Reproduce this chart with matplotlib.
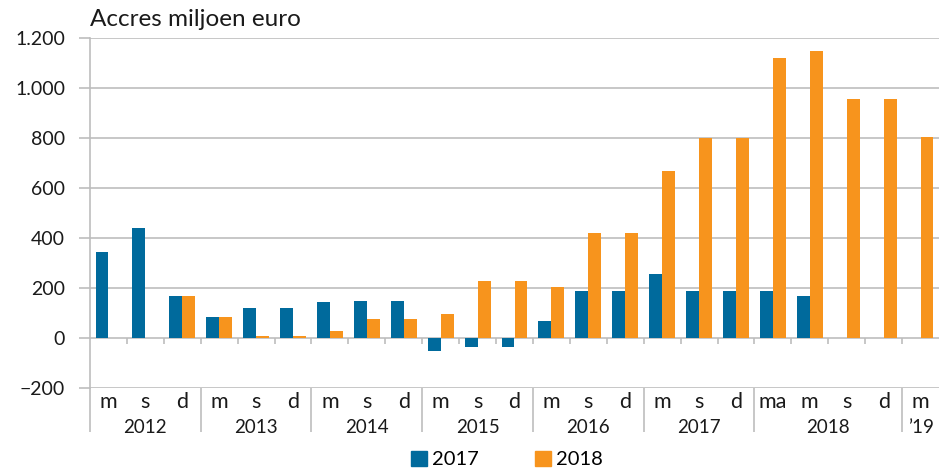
import matplotlib
matplotlib.use("Agg")
import matplotlib.pyplot as plt
import matplotlib.transforms as mtransforms
from matplotlib.patches import Patch

plt.rcParams['font.family'] = ['Lato', 'DejaVu Sans']

# category labels (m = mei, s = september, d = december, ma = maart)
periods = ["m", "s", "d", "m", "s", "d", "m", "s", "d", "m", "s", "d",
           "m", "s", "d", "m", "s", "d", "ma", "m", "s", "d", "m"]
years = ["2012", "2013", "2014", "2015", "2016", "2017", "2018", "\u201919"]
year_sizes = [3, 3, 3, 3, 3, 3, 4, 1]

# accres per circulaire, miljoen euro
acc_2017 = [345, 440, 168, 85, 122, 122, 145, 150, 150, -50, -35, -35,
            68, 190, 190, 255, 190, 190, 190, 168, None, None, None]
acc_2018 = [None, None, 168, 85, 8, 8, 28, 75, 75, 95, 228, 228,
            205, 420, 420, 670, 800, 800, 1120, 1148, 955, 955, 805]

blue = "#006a9c"
orange = "#f7941d"
grey = "#bdbdbd"

fig = plt.figure(figsize=(9.39, 4.70), dpi=100)
ax = fig.add_axes([90 / 939, 1 - 388 / 470, 849 / 939, 350 / 470])

w = 0.35
n = len(periods)
for i in range(n):
    c = i + 0.5
    if acc_2017[i] is not None:
        ax.bar(c - w / 2, acc_2017[i], width=w, color=blue, zorder=3)
    if acc_2018[i] is not None:
        ax.bar(c + w / 2, acc_2018[i], width=w, color=orange, zorder=3)

ax.set_xlim(0, n)
ax.set_ylim(-200, 1200)
yt = list(range(-200, 1201, 200))
ax.set_yticks(yt)


def fmt(v):
    s = "{:,}".format(abs(v)).replace(",", ".")
    return ("\u2212" + s) if v < 0 else s


ax.set_yticklabels([fmt(v) for v in yt], fontsize=14, color="#1a1a1a")
ax.tick_params(axis="y", length=8, width=1.2, color=grey, pad=10)
ax.yaxis.grid(True, color=grey, linewidth=1.2, zorder=0)
for s in ["top", "right", "bottom"]:
    ax.spines[s].set_visible(False)
ax.spines["left"].set_color(grey)
ax.spines["left"].set_linewidth(1.2)

# category labels
ax.set_xticks([i + 0.5 for i in range(n)])
ax.set_xticklabels(periods, fontsize=15.5, color="#1a1a1a")
ax.tick_params(axis="x", length=0, pad=3)

# small ticks on the zero line
trans = mtransforms.blended_transform_factory(ax.transData, ax.transAxes)
ax.vlines(range(1, n), 0, -22, color=grey, linewidth=1.2, zorder=2)

# year labels and separators
start = 0
bounds = [0]
for yr, size in zip(years, year_sizes):
    ax.text(start + size / 2, -0.088, yr, transform=trans, ha="center",
            va="top", fontsize=13.5, color="#1a1a1a")
    start += size
    bounds.append(start)
ax.vlines(bounds[:-1], -0.126, 0, transform=trans, color=grey,
          linewidth=1.2, clip_on=False)

ax.text(0, 1.022, "Accres miljoen euro", transform=ax.transAxes, ha="left",
        va="bottom", fontsize=17.5, color="#1a1a1a")

handles = [Patch(color=blue, label="2017"), Patch(color=orange, label="2018")]
fig.legend(handles=handles, loc="lower center", bbox_to_anchor=(0.54, -0.035),
           ncol=2, frameon=False, fontsize=14.5, handlelength=0.8,
           handleheight=0.8, handletextpad=0.25, columnspacing=2.8)

fig.savefig("out.png", dpi=100)
